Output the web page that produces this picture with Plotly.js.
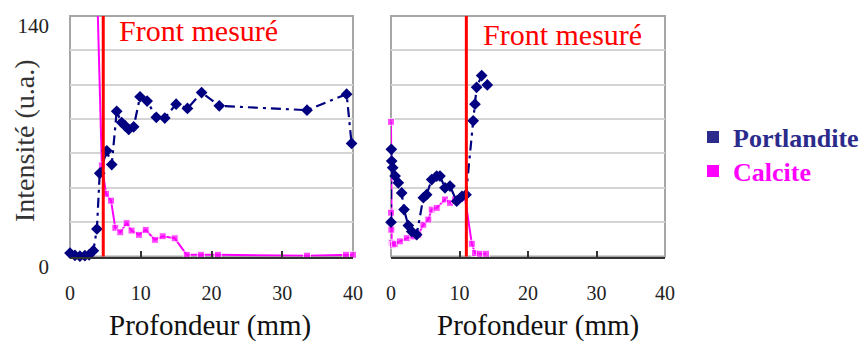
<!DOCTYPE html>
<html>
<head>
<meta charset="utf-8">
<script src="https://cdn.plot.ly/plotly-3.0.1.min.js"></script>
<style>html,body{margin:0;padding:0;background:#fff;}#chart{width:864px;height:344px;}</style>
</head>
<body>
<div id="chart"></div>
<script>
// ---- Data ----
const seriesNames = ['Portlandite', 'Calcite'];

// Left panel
const portL_x = [0, 0.7, 1.4, 2.1, 2.7, 3.3, 3.8, 4.2, 5.2, 5.9, 6.6, 7.3, 7.8, 8.3, 9.0, 9.9, 10.9, 12.2, 13.4, 15.0, 16.6, 18.6, 21.1, 33.5, 39.1, 39.8];
const portL_y = [2, 0.6, 0.2, 0.5, 1.0, 3.4, 16, 48.4, 61.5, 53.5, 84.5, 78, 76, 74, 75.5, 93, 90.5, 81, 80.6, 88.7, 86.2, 95.4, 87.7, 85.2, 94.5, 65.8];
const calL_x = [3.3, 4.5, 5.1, 5.8, 6.4, 7.1, 8.0, 8.7, 9.75, 10.7, 12.0, 13.1, 14.8, 16.5, 18.5, 20.9, 33.5, 39.0, 40.0];
const calL_y = [238, 53, 36.5, 32.5, 16.7, 14.1, 19.4, 15.1, 12.6, 15.5, 9.7, 11.8, 10.6, 1, 1, 1, 0.5, 1, 1];

// Right panel
const portR_x = [0, 0.05, 0.1, 0.25, 0.6, 1.07, 1.56, 1.9, 2.53, 3.02, 3.75, 4.72, 5.2, 5.94, 6.67, 7.15, 7.88, 8.61, 9.59, 10.36, 10.95, 12.0, 12.26, 12.5, 13.24, 14.06];
const portR_y = [20, 62.4, 55.6, 51.7, 46.8, 42.9, 37, 27.3, 18, 14.6, 12.7, 34.2, 36, 44.8, 46.8, 46.8, 40, 41, 32.2, 35, 36, 79, 88.7, 98.5, 105.3, 99.9];
const calR_x = [0, 0.0, 0.05, 0.1, 0.3, 0.6, 1.3, 2.3, 3.26, 3.99, 4.72, 5.45, 5.94, 6.67, 7.88, 8.61, 9.34, 10.07, 10.8, 11.8, 12.26, 12.99, 13.87];
const calR_y = [78.4, 25.5, 15.6, 8, 6.8, 7.4, 8.8, 10.7, 11.7, 12.7, 18.5, 21.5, 27.3, 28.3, 33.2, 31.2, 33.2, 33.7, 34.2, 7.4, 2, 1.6, 1.6];

// Measured front positions (mm): left panel, right panel
const frontPos = [4.7, 11.0];
const frontLabel = 'Front mesuré';

// Axes
const xTickVals = [0, 10, 20, 30, 40];
const xTickText = ['0', '10', '20', '30', '40'];
const yGridVals = [0, 20, 40, 60, 80, 100, 120, 140];
const yTickText = ['0', '', '', '', '', '', '', '140'];
const xTitle = 'Profondeur (mm)';
const yTitle = 'Intensité (u.a.)';

// ---- Styles ----
const SERIF = '"Liberation Serif", "Times New Roman", serif';
const NAVY = '#000080';
const NAVY_LEG = '#2b2b8c';
const MAG = '#ff00ff';
const YMAX = 140;

function portTrace(x, y, xa, ya) {
  return {
    x: x, y: y, xaxis: xa, yaxis: ya, type: 'scatter', mode: 'lines+markers',
    name: seriesNames[0], showlegend: false, cliponaxis: false,
    line: {color: NAVY, width: 2.2, dash: '10px,5px,3px,5px'},
    marker: {symbol: 'diamond', size: 9, color: NAVY}
  };
}
function calTrace(x, y, xa, ya) {
  return {
    x: x, y: y, xaxis: xa, yaxis: ya, type: 'scatter', mode: 'lines+markers',
    name: seriesNames[1], showlegend: false, cliponaxis: false,
    line: {color: MAG, width: 2},
    marker: {symbol: 'square', size: y.map(v => v > YMAX ? 0 : 7), color: MAG}
  };
}

const traces = [
  calTrace(calL_x, calL_y, 'x', 'y'),
  portTrace(portL_x, portL_y, 'x', 'y'),
  calTrace(calR_x, calR_y, 'x2', 'y2'),
  portTrace(portR_x, portR_y, 'x2', 'y2'),
  // legend entries
  {x: [null], y: [null], xaxis: 'x', yaxis: 'y', type: 'scatter', mode: 'markers', legend: 'legend',
   name: '<span style="color:' + NAVY_LEG + '">' + seriesNames[0] + '</span>',
   marker: {symbol: 'square', size: 12, color: NAVY_LEG}},
  {x: [null], y: [null], xaxis: 'x', yaxis: 'y', type: 'scatter', mode: 'markers', legend: 'legend2',
   name: '<span style="color:' + MAG + '">' + seriesNames[1] + '</span>',
   marker: {symbol: 'square', size: 12, color: MAG}}
];

const W = 864, H = 344;
const yDom = [1 - 256.5 / H, 1 - 16 / H];

function xAxis(dom) {
  return {
    domain: dom, range: [0, 40], tickvals: xTickVals, ticktext: xTickText,
    showgrid: false, zeroline: false, showline: true, linecolor: '#333', linewidth: 2,
    ticks: 'inside', ticklen: 6, tickwidth: 2, tickcolor: '#333',
    ticklabelstandoff: 17,
    tickfont: {family: SERIF, size: 20, color: '#222'}, fixedrange: true
  };
}
function yAxis(dom, anchor, labels) {
  return {
    domain: dom, anchor: anchor, range: [0, YMAX], tickvals: yGridVals, ticktext: yTickText,
    showticklabels: labels, showgrid: true, gridcolor: '#d4d4d4', gridwidth: 2,
    zeroline: false, showline: false, ticks: '',
    ticklabelstandoff: 20, ticklabelshift: 10,
    tickfont: {family: SERIF, size: 21, color: '#222'}, fixedrange: true
  };
}

function frame(xr, yr) {
  return {type: 'rect', xref: xr + ' domain', yref: yr + ' domain', x0: 0, x1: 1, y0: 0, y1: 1,
          line: {color: '#a6a6a6', width: 2}, layer: 'below'};
}
function front(xr, yr, pos) {
  return {type: 'line', xref: xr, yref: yr + ' domain', x0: pos, x1: pos, y0: 0, y1: 1,
          line: {color: '#ff0000', width: 3}, layer: 'above'};
}

const legendFont = {family: SERIF, size: 26, color: '#333', weight: 'bold'};

const layout = {
  width: W, height: H,
  margin: {l: 0, r: 0, t: 0, b: 0},
  paper_bgcolor: '#ffffff', plot_bgcolor: '#ffffff',
  xaxis: xAxis([70 / W, 353 / W]),
  yaxis: yAxis(yDom, 'x', true),
  xaxis2: Object.assign(xAxis([391 / W, 665 / W]), {anchor: 'y2'}),
  yaxis2: yAxis(yDom, 'x2', false),
  showlegend: true,
  legend: {
    x: 693 / W, y: 1 - 137 / H, xanchor: 'left', yanchor: 'middle',
    bgcolor: 'rgba(0,0,0,0)', borderwidth: 0, itemwidth: 30, font: legendFont
  },
  legend2: {
    x: 693 / W, y: 1 - 171 / H, xanchor: 'left', yanchor: 'middle',
    bgcolor: 'rgba(0,0,0,0)', borderwidth: 0, itemwidth: 30, font: legendFont
  },
  shapes: [
    frame('x', 'y'), frame('x2', 'y2'),
    front('x', 'y', frontPos[0]), front('x2', 'y2', frontPos[1])
  ],
  annotations: [
    {text: frontLabel, xref: 'paper', yref: 'paper', x: 117 / W, y: 1 - 31 / H,
     xanchor: 'left', yanchor: 'middle', showarrow: false,
     font: {family: SERIF, size: 30, color: '#ff0000'}},
    {text: frontLabel, xref: 'paper', yref: 'paper', x: 481 / W, y: 1 - 35 / H,
     xanchor: 'left', yanchor: 'middle', showarrow: false,
     font: {family: SERIF, size: 30, color: '#ff0000'}},
    {text: xTitle, xref: 'paper', yref: 'paper', x: 210 / W, y: 1 - 325 / H,
     xanchor: 'center', yanchor: 'middle', showarrow: false, borderpad: 0, borderwidth: 0,
     font: {family: SERIF, size: 29, color: '#111'}},
    {text: xTitle, xref: 'paper', yref: 'paper', x: 537.5 / W, y: 1 - 325 / H,
     xanchor: 'center', yanchor: 'middle', showarrow: false, borderpad: 0, borderwidth: 0,
     font: {family: SERIF, size: 29, color: '#111'}},
    {text: yTitle, xref: 'paper', yref: 'paper', x: 24 / W, y: 1 - 141 / H,
     xanchor: 'center', yanchor: 'middle', showarrow: false, textangle: -90,
     font: {family: SERIF, size: 28, color: '#333'}}
  ]
};

Plotly.newPlot('chart', traces, layout, {displayModeBar: false, staticPlot: true});
</script>
</body>
</html>
